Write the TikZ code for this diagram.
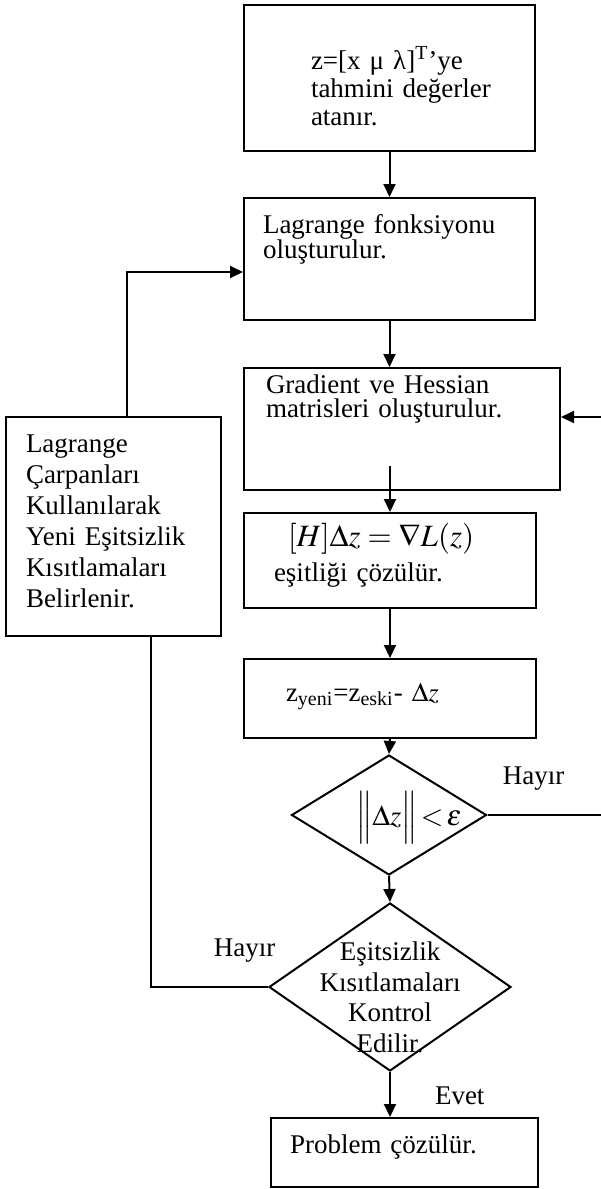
\documentclass[tikz,border=0pt]{standalone}
\usepackage{mathptmx}
\usepackage[no-math]{fontspec}
\setmainfont{Liberation Serif}
\usetikzlibrary{arrows.meta, shapes.geometric, calc}

\newcommand{\indentby}[1]{\leftskip=#1\relax}
\newcommand{\inset}[3]{\smash{\makebox[0pt]{\hspace{#1}\raisebox{#2}{#3}}}}

\begin{document}
\begin{tikzpicture}[x=0.5pt, y=-0.5pt,
      procbox/.style={draw, line width=1pt, rectangle, inner sep=0pt,
                      align=left, anchor=north west,
                      font=\fontsize{13.5}{15.5}\selectfont},
      decision/.style={draw, line width=1pt, diamond, inner sep=0pt,
                       font=\fontsize{13.5}{15.3}\selectfont},
      flow/.style={line width=1pt},
      arr/.style={flow, -{Triangle[length=6.5pt, width=6pt]}},
      lbl/.style={inner sep=0pt, font=\fontsize{13.5}{15.5}\selectfont}]
    \useasboundingbox (0,0) rectangle (600,1189);
    % main column
    \node[procbox, text width=145.5pt, text height=32pt, text depth=41pt,
          font=\fontsize{13.5}{14}\selectfont] (init) at (243,4)
      {\indentby{33.5pt}z=[x μ λ]\textsuperscript{T}’ye\\
       tahmini değerler\\
       atanır.\par};
    \node[procbox, text width=145.5pt, text height=17.5pt, text depth=43.5pt,
          font=\fontsize{13.5}{12.75}\selectfont] (lag) at (243,197)
      {\indentby{9.5pt}Lagrange fonksiyonu\\
       oluşturulur.\par};
    \node[procbox, text width=158pt, text height=12.5pt, text depth=48.5pt,
          font=\fontsize{13.5}{12}\selectfont] (grad) at (243,367)
      {\indentby{11pt}Gradient ve Hessian\\
       matrisleri oluşturulur.\par};
    \node[procbox, text width=146pt, text height=16.5pt, text depth=31pt,
          font=\fontsize{13.5}{17.5}\selectfont] (eq) at (243,512)
      {\indentby{15pt}\hspace*{7pt}{\fontsize{15.5}{17.5}\selectfont
       $[H]\Delta z = \nabla L(z)$}\\
       eşitliği çözülür.\par};
    \node[procbox, text width=146pt, text height=21pt, text depth=18.5pt] (upd) at (243,658)
      {\indentby{21pt}z\textsubscript{yeni}=z\textsubscript{eski}- $\Delta z$\par};
    \node[decision, minimum width=97.5pt, minimum height=60pt] (conv) at (389,815)
      {\inset{20pt}{-5pt}{\fontsize{14.5}{17}\selectfont
       $\Bigl\|\Delta z\Bigr\|\mskip-2mu<\mskip-2mu\varepsilon$}};
    \node[decision, minimum width=121pt, minimum height=84pt] (ineq) at (390,987)
      {\inset{0pt}{-10pt}{\begin{tabular}{@{}c@{}}Eşitsizlik\\ Kısıtlamaları\\
       Kontrol\\ Edilir.\end{tabular}}};
    \node[procbox, text width=133.5pt, text height=17.5pt, text depth=17pt] (fin) at (270,1117)
      {\indentby{9.5pt}Problem çözülür.\par};
    % side box
    \node[procbox, text width=107.5pt, text height=17.5pt, text depth=92pt] (newcon) at (5,416)
      {\indentby{10pt}Lagrange\\
       Çarpanları\\
       Kullanılarak\\
       Yeni Eşitsizlik\\
       Kısıtlamaları\\
       Belirlenir.\par};
    \coordinate (rt) at (603,417);
    % connectors
    \draw[arr] (init.south) -- (lag.north);
    \draw[arr] (lag.south) -- (lag.south |- grad.north);
    \draw[arr] ([yshift=12.5pt]grad.south -| eq.north) -- (eq.north);
    \draw[arr] (eq.south) -- (upd.north);
    \draw[arr] (upd.south) -- (conv.north);
    \draw[arr] (conv.south) -- (ineq.north);
    \draw[arr] (ineq.south) -- node[lbl, pos=0.53, right=22pt] {Evet}
      (ineq.south |- fin.north);
    \draw[arr] (conv.east) -| node[lbl, pos=0.2, above=12pt] {Hayır} (rt)
      -- (rt -| grad.east);
    \draw[flow] (ineq.west) -| node[lbl, pos=0.1, above=12pt] {Hayır}
      ([xshift=18.75pt]newcon.south);
    \draw[arr] ([xshift=6.75pt]newcon.north) |- ([yshift=-6.5pt]lag.west);
\end{tikzpicture}
\end{document}
